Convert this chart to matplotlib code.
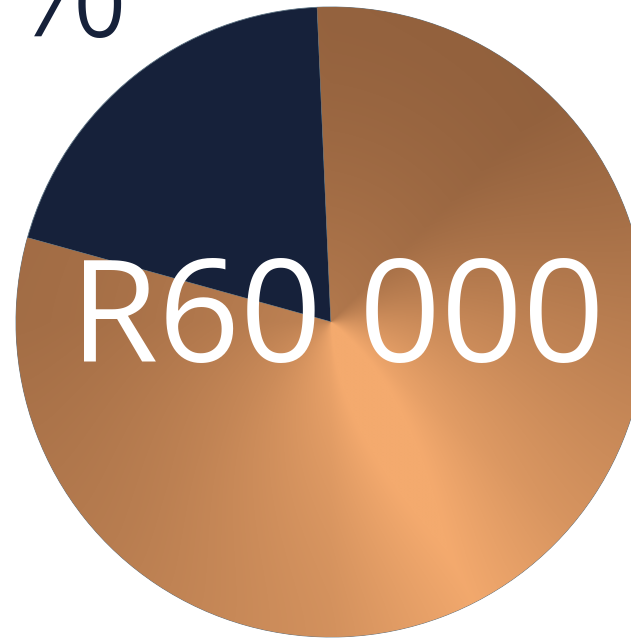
import numpy as np
import matplotlib
matplotlib.use("Agg")
import matplotlib.pyplot as plt

# data
labels = ["Other", "Main"]
shares = [20, 80]
amount_label = "R60 000"
pct_label = "20%"

NAVY = "#16213a"

W, H = 631, 638
fig = plt.figure(figsize=(W / 100, H / 100), dpi=100)
ax = fig.add_axes([0, 0, 1, 1])

cx, cy, r = 331, H - 322, 315

wedges, _ = ax.pie(shares, colors=[NAVY, "#c08050"], startangle=92.5,
                   center=(cx, cy), radius=r, frame=True,
                   wedgeprops=dict(linewidth=0.6, edgecolor="#5a7080"))
ax.set_xlim(0, W)
ax.set_ylim(0, H)
ax.set_aspect("equal")
ax.set_axis_off()

# copper texture: brightness by angle round the centre, a bit lighter inside
n = 700
xs = np.linspace(cx - r, cx + r, n)
ys = np.linspace(cy - r, cy + r, n)
X, Y = np.meshgrid(xs, ys)
theta = np.degrees(np.arctan2(Y - cy, X - cx))
rho = np.hypot(X - cx, Y - cy) / r
ang = [-180, -135, -90, -63, -40, 0, 20, 45, 90, 130, 180]
lev = [0.22, 0.42, 0.68, 0.98, 0.72, 0.42, 0.25, 0.06, 0.08, 0.2, 0.22]
w = np.interp(theta, ang, lev) + 0.3 * np.clip(1 - rho, 0, 1) ** 1.5
w = np.clip(w, 0, 1)
dark = np.array([0x8c, 0x5c, 0x3a]) / 255
bright = np.array([0xf4, 0xaa, 0x6e]) / 255
img = dark + (bright - dark) * w[..., None]
im = ax.imshow(img, extent=(cx - r, cx + r, cy - r, cy + r), origin="lower",
               interpolation="bilinear", zorder=wedges[1].get_zorder() + 0.1)
im.set_clip_path(wedges[1])
ax.set_xlim(0, W)
ax.set_ylim(0, H)

ax.text(337, H - 362, amount_label, color="white", fontsize=103,
        family="Open Sans", ha="center", va="baseline", zorder=5)
ax.text(130, H - 36, pct_label, color=NAVY, fontsize=110, fontweight="light",
        family="Open Sans", ha="right", va="baseline", zorder=5)

fig.savefig("out.png", dpi=100)
